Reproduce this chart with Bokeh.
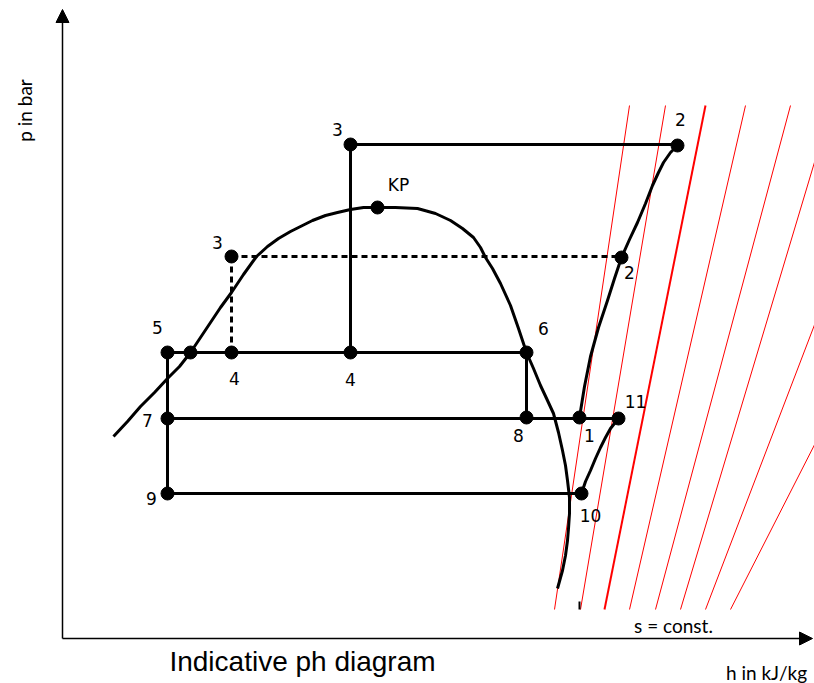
import numpy as np
from bokeh.plotting import figure
from bokeh.models import Range1d, Arrow, NormalHead
from bokeh.core.properties import value
from bokeh.embed import file_html
from bokeh.resources import INLINE

# ---------------- data (indicative h / p units) ----------------
# state points of the cycle
pt_label = ["3", "2", "KP", "3", "2", "5", "", "4", "4", "6", "7", "8", "1", "11", "9", "10"]
pt_h = [288, 615, 315, 169, 559, 105, 128, 169, 288, 464, 105, 464, 517, 556, 105, 519]
pt_p = [494, 493, 431, 382, 381, 286, 286, 286, 286, 286, 220, 221, 221, 220, 145, 145]

# saturation (two-phase dome) curve
sat_h = [51, 65, 78, 92, 105, 117, 128, 138, 148, 158, 169, 181, 194,
         205, 216, 228, 238, 250, 263, 275, 288, 301, 315, 333, 355, 373, 388, 400, 411, 418, 423,
         430, 438, 448, 456, 464, 471, 478, 485, 491, 496, 500, 503, 505, 507, 507, 506, 505, 503, 500, 495]
sat_p = [202, 217, 232, 246, 260, 272, 286, 301, 316, 331, 346, 364, 382,
         392, 400, 407, 412, 418, 423, 426, 429, 431, 431, 431, 430, 425, 418, 410, 401, 391, 381,
         370, 355, 333, 310, 286, 270, 253, 238, 225, 206, 188, 173, 158, 141, 125, 110, 98, 83, 68, 50]

# compression 1 -> 2' -> 2
comp_h = [517, 522, 528, 536, 545, 552, 559, 567, 575, 583, 590, 596, 601, 608, 615]
comp_p = [221, 252, 282, 311, 338, 360, 381, 399, 416, 435, 453, 466, 476, 486, 493]

# compression 10 -> 11
comp2_h = [519, 523, 528, 533, 538, 543, 548, 552, 556]
comp2_p = [145, 157, 168, 180, 191, 201, 210, 215, 220]

# isentropes s = const. (straight lines, h at bottom and top pressure)
s_p_bottom = 29
s_p_top = 533
s_h_bottom = [492, 518, 542, 567, 593, 618, 643, 668]
s_h_top = [567, 603, 643, 683, 728, 769, 836, 925]

# ---------------- figure ----------------
W, H = 814, 683
p = figure(width=W, height=H, output_backend="svg", toolbar_location=None,
           x_range=Range1d(-62, 752), y_range=Range1d(-45, 638), min_border=0)
p.axis.visible = False
p.grid.visible = False
p.outline_line_color = None
p.background_fill_color = "white"
p.border_fill_color = "white"

# isentropes
s_widths = [1, 1, 2, 1, 1, 1, 1, 1]
p.segment(x0=s_h_bottom, y0=[s_p_bottom] * 8, x1=s_h_top, y1=[s_p_top] * 8,
          line_color="#ff0000", line_width=s_widths)
# small black tick at the bottom
p.segment(x0=[517], y0=[29], x1=[517], y1=[37], line_color="black", line_width=2)

# saturation curve
p.line(sat_h, sat_p, line_color="black", line_width=3, line_join="round")

# cycle lines (between state points)
segs = [(0, 1), (0, 8), (5, 9), (9, 11), (10, 13), (5, 14), (14, 15)]
p.segment(x0=[pt_h[a] for a, b in segs], y0=[pt_p[a] for a, b in segs],
          x1=[pt_h[b] for a, b in segs], y1=[pt_p[a] if b == 1 else pt_p[b] for a, b in segs],
          line_color="black", line_width=3)
# dashed
p.segment(x0=[pt_h[3], pt_h[3]], y0=[pt_p[3], pt_p[3]], x1=[pt_h[4], pt_h[7]], y1=[pt_p[3], pt_p[7]],
          line_color="black", line_width=3, line_dash="6 4")

p.line(comp_h, comp_p, line_color="black", line_width=3, line_join="round")
p.line(comp2_h, comp2_p, line_color="black", line_width=3, line_join="round")

# points
p.scatter(pt_h, pt_p, size=13, fill_color="black", line_color="black")

# labels with pixel offsets
offx = [-13, 3, 21, -14, 8, -10, 0, 3, 0, 17, -20, -8, 10, 17, -16, 9]
offy = [-15, -26, -23, -14, 15, -25, 0, 26, 27, -24, 2, 18, 18, -17, 5, 22]
p.text(x=pt_h, y=pt_p, text=pt_label, x_offset=offx, y_offset=offy,
       text_font=value("DejaVu Sans"), text_font_size="17px",
       text_align="center", text_baseline="middle", text_color="black")

# axes with arrows
p.add_layout(Arrow(end=NormalHead(size=13, fill_color="black", line_color="black"),
                   x_start=0, y_start=0, x_end=0, y_end=629, line_width=1.5, line_color="black"))
p.add_layout(Arrow(end=NormalHead(size=13, fill_color="black", line_color="black"),
                   x_start=0, y_start=0, x_end=750, y_end=0, line_width=1.5, line_color="black"))

p.text(x=[-38], y=[528], text=["p in bar"], angle=np.pi / 2,
       text_font=value("Lato"), text_font_size="19px",
       text_align="center", text_baseline="middle", text_color="black")
p.text(x=[704], y=[-34], text=["h in kJ/kg"],
       text_font=value("Lato"), text_font_size="19px",
       text_align="center", text_baseline="middle", text_color="black")
p.text(x=[611], y=[13], text=["s = const."],
       text_font=value("Lato"), text_font_size="19px",
       text_align="center", text_baseline="middle", text_color="black")
p.text(x=[240], y=[-23], text=["Indicative ph diagram"],
       text_font=value("Liberation Sans"), text_font_size="28px",
       text_align="center", text_baseline="middle", text_color="black")

open("out.html", "w").write(file_html(p, INLINE))
